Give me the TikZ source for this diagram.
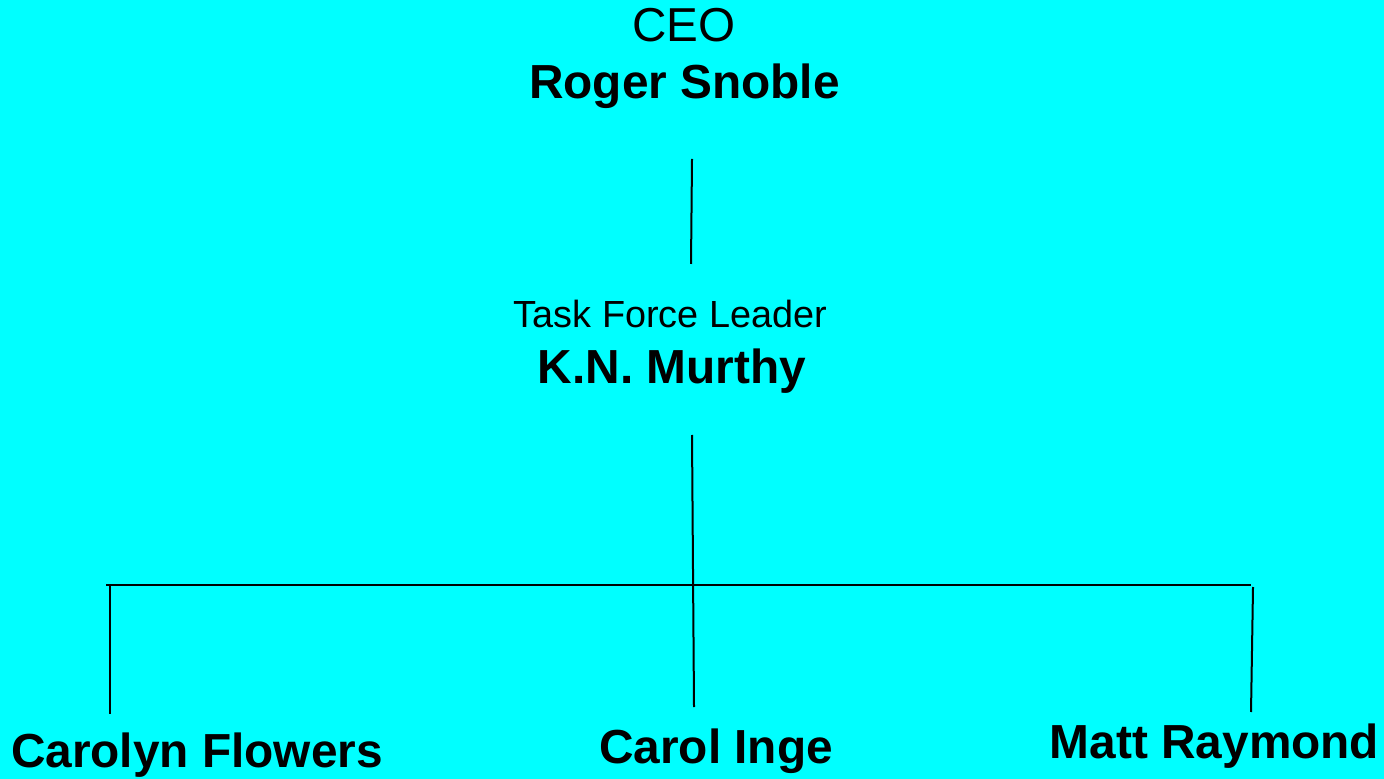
\documentclass[tikz,border=0pt]{standalone}
\usepackage{fontspec}
\setmainfont{Liberation Sans}
\definecolor{bgcyan}{RGB}{0,255,255}
\begin{document}
\begin{tikzpicture}[x=0.5pt,y=-0.5pt,
  titletext/.style={inner sep=0pt,anchor=base,font=\fontsize{23.8pt}{28pt}\selectfont},
  roletext/.style={inner sep=0pt,anchor=base,font=\fontsize{18.9pt}{22pt}\selectfont},
  nametext/.style={inner sep=0pt,anchor=base,font=\fontsize{23.9pt}{28pt}\selectfont\bfseries},
  conn/.style={line width=1pt,black}]
\fill[bgcyan] (0,0) rectangle (1384,779);
\useasboundingbox (0,0) rectangle (1384,779);
% texts
\node[titletext] (ceo) at (684,42) {CEO};
\node[nametext] (roger) at (684.5,99) {Roger Snoble};
\node[roletext] (tfl) at (670.5,328) {Task Force Leader};
\node[nametext] (murthy) at (672,384) {K.N. Murthy};
\node[nametext] (carolyn) at (197,767) {Carolyn Flowers};
\node[nametext] (inge) at (716,763) {Carol Inge};
\node[nametext] (matt) at (1214.5,758) {Matt Raymond};
% connector points
\coordinate (a1) at (692,159);
\coordinate (a2) at (691,264);
\coordinate (b1) at (692,435);
\coordinate (b2) at (694,707);
\coordinate (hl) at (106,585);
\coordinate (hr) at (1251,585);
\coordinate (l1) at (110,585);
\coordinate (l2) at (110,714);
\coordinate (r1) at (1253,587);
\coordinate (r2) at (1251,712);
% connectors
\draw[conn] (a1) -- (a2);
\draw[conn] (b1) -- (b2);
\draw[conn] (hl) -- (hr);
\draw[conn] (l1) -- (l2);
\draw[conn] (r1) -- (r2);
\end{tikzpicture}
\end{document}
